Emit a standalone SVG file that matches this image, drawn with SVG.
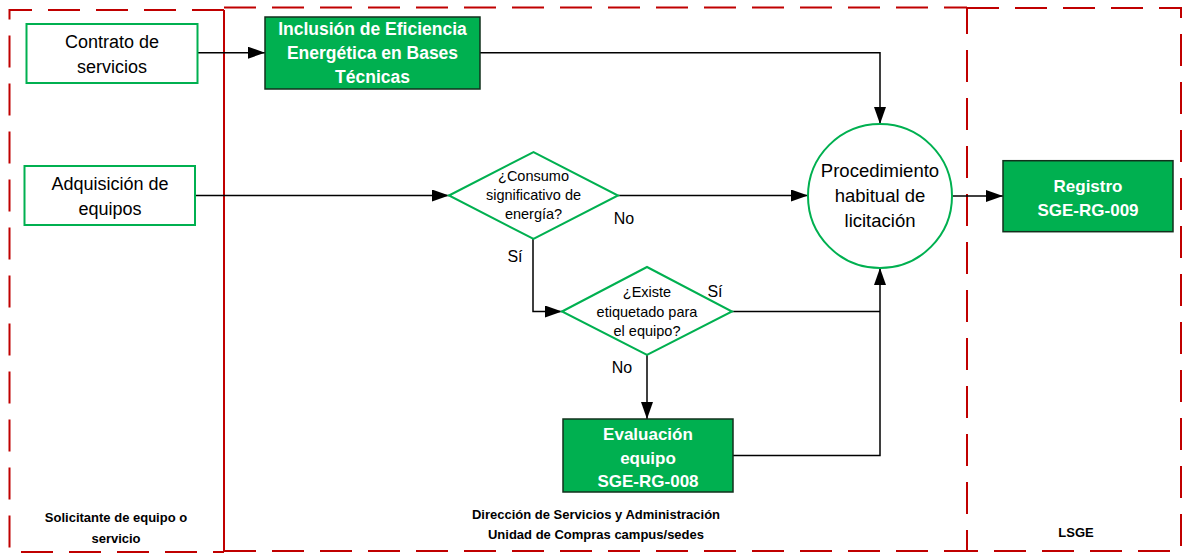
<svg xmlns="http://www.w3.org/2000/svg" width="1183" height="553" viewBox="0 0 1183 553">
<defs>
<style>
.lane{fill:none;stroke:#C00000;stroke-width:2;stroke-dasharray:32 16}
.solid{fill:none;stroke:#C00000;stroke-width:2}
.box{fill:#fff;stroke:#00B050;stroke-width:2}
.fbox{fill:#00B050;stroke:#12301c;stroke-width:1.5}
.dia{fill:#fff;stroke:#00B050;stroke-width:2}
.con{fill:none;stroke:#000;stroke-width:1.5}
text{font-family:"Liberation Sans",Arial,sans-serif;text-anchor:middle}
.t{font-size:18px;fill:#000}
.tw{font-size:17px;fill:#fff;font-weight:bold}
.td{font-size:14.5px;fill:#000}
.lbl{font-size:16px;fill:#000}
.ln{font-size:13px;font-weight:bold;fill:#000}
</style>
<marker id="arr" markerUnits="userSpaceOnUse" markerWidth="17" markerHeight="12" refX="17" refY="6" orient="auto">
<path d="M0,0 L17,6 L0,12 z" fill="#000"/>
</marker>
</defs>
<g id="lanes">
<path class="lane" d="M224,10 H9.5 V552 H224"/>
<line class="solid" x1="224" y1="10" x2="224" y2="552"/>
<path class="lane" d="M224,7.5 H967"/>
<path class="lane" d="M224,551 H967"/>
<rect class="lane" x="967" y="8" width="214" height="543"/>
</g>
<g id="lane-labels">
<text class="ln" x="116" y="522">Solicitante de equipo o</text>
<text class="ln" x="116" y="543">servicio</text>
<text class="ln" x="596" y="519">Dirección de Servicios y Administración</text>
<text class="ln" x="596" y="539">Unidad de Compras campus/sedes</text>
<text class="ln" x="1076" y="537">LSGE</text>
</g>
<g id="connectors">
<path class="con" d="M197.5,52.7 H265" marker-end="url(#arr)"/>
<path class="con" d="M480,52.7 H880 V124" marker-end="url(#arr)"/>
<path class="con" d="M195,195.5 H449" marker-end="url(#arr)"/>
<path class="con" d="M618,195.5 H808" marker-end="url(#arr)"/>
<path class="con" d="M533,239 V311.5 H562" marker-end="url(#arr)"/>
<path class="con" d="M732,311.5 H880"/>
<path class="con" d="M647,355 V419" marker-end="url(#arr)"/>
<path class="con" d="M733,455.5 H880 V268" marker-end="url(#arr)"/>
<path class="con" d="M952,196 H1003" marker-end="url(#arr)"/>
</g>
<g id="connector-labels">
<text class="lbl" x="624" y="224">No</text>
<text class="lbl" x="515" y="262">Sí</text>
<text class="lbl" x="715" y="297">Sí</text>
<text class="lbl" x="622" y="373">No</text>
</g>
<g id="contrato">
<rect class="box" x="26.5" y="24" width="171" height="59"/>
<text class="t" x="112" y="48">Contrato de</text>
<text class="t" x="112" y="73">servicios</text>
</g>
<g id="adquisicion">
<rect class="box" x="24.5" y="166" width="170.5" height="59"/>
<text class="t" x="110" y="190">Adquisición de</text>
<text class="t" x="110" y="215">equipos</text>
</g>
<g id="inclusion">
<rect class="fbox" x="265" y="17" width="215" height="72"/>
<text class="tw" x="372.5" y="35" style="font-size:17.5px">Inclusión de Eficiencia</text>
<text class="tw" x="372.5" y="59" style="font-size:17.5px">Energética en Bases</text>
<text class="tw" x="372.5" y="83" style="font-size:17.5px">Técnicas</text>
</g>
<g id="consumo">
<polygon class="dia" points="449,195.5 533.5,152 618,195.5 533.5,239"/>
<text class="td" x="533.5" y="181">¿Consumo</text>
<text class="td" x="533.5" y="200">significativo de</text>
<text class="td" x="533.5" y="219">energía?</text>
</g>
<g id="existe">
<polygon class="dia" points="562,311.5 647,267 732,311.5 647,355"/>
<text class="td" x="647" y="297">¿Existe</text>
<text class="td" x="647" y="317">etiquetado para</text>
<text class="td" x="647" y="336">el equipo?</text>
</g>
<g id="procedimiento">
<circle cx="880" cy="196" r="72" fill="#fff" stroke="#00B050" stroke-width="2"/>
<text class="t" x="880" y="177" style="font-size:18.5px">Procedimiento</text>
<text class="t" x="880" y="202" style="font-size:18.5px">habitual de</text>
<text class="t" x="880" y="227" style="font-size:18.5px">licitación</text>
</g>
<g id="registro">
<rect class="fbox" x="1003" y="160.7" width="170" height="71"/>
<text class="tw" x="1088" y="192">Registro</text>
<text class="tw" x="1088" y="216">SGE-RG-009</text>
</g>
<g id="evaluacion">
<rect class="fbox" x="563" y="419" width="170" height="73"/>
<text class="tw" x="648" y="440">Evaluación</text>
<text class="tw" x="648" y="464">equipo</text>
<text class="tw" x="648" y="487">SGE-RG-008</text>
</g>
</svg>
